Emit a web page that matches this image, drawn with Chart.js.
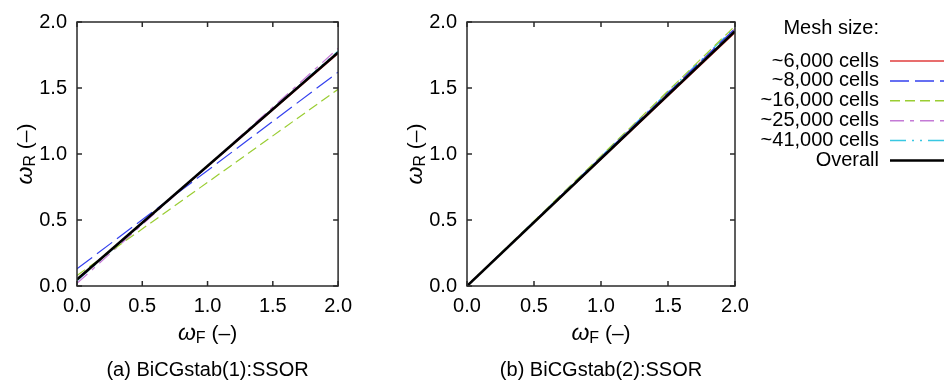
<!DOCTYPE html>
<html>
<head>
<meta charset="utf-8">
<script src="https://cdn.jsdelivr.net/npm/chart.js@4/dist/chart.umd.min.js"></script>
<style>
  html, body { margin: 0; padding: 0; background: #fff; }
  #wrap { position: relative; width: 944px; height: 385px; }
  #boxA { position: absolute; left: 0; top: 0; width: 360px; height: 385px; }
  #boxB { position: absolute; left: 360px; top: 0; width: 584px; height: 385px; }
</style>
</head>
<body>
<div id="wrap">
  <div id="boxA"><canvas id="chartA" width="360" height="385"></canvas></div>
  <div id="boxB"><canvas id="chartB" width="584" height="385"></canvas></div>
</div>
<script>
// ---- data ----
const xValues = [0, 2];                       // omega_F at the two ends of each fitted line
const tickValues = [0, 0.5, 1.0, 1.5, 2.0];
const seriesNames = ['~6,000 cells', '~8,000 cells', '~16,000 cells', '~25,000 cells', '~41,000 cells', 'Overall'];
const captions = ['(a) BiCGstab(1):SSOR', '(b) BiCGstab(2):SSOR'];
const legendTitle = 'Mesh size:';

// panel (a): omega_R at omega_F = 0 and 2
const a_6k   = [0.05, 1.76];
const a_8k   = [0.13, 1.62];
const a_16k  = [0.08, 1.49];
const a_25k  = [0.02, 1.80];
const a_41k  = [0.04, 1.78];
const a_all  = [0.05, 1.77];

// panel (b)
const b_6k   = [0.00, 1.92];
const b_8k   = [0.00, 1.95];
const b_16k  = [0.00, 1.97];
const b_25k  = [0.00, 1.95];
const b_41k  = [0.00, 1.96];
const b_all  = [0.00, 1.93];

// ---- styles ----
const colors = ['#e03c3c', '#3340ee', '#9acd32', '#c47ad6', '#38c8e2', '#000000'];
const dashes = [[], [19, 6], [10, 5], [14, 6, 4, 6], [16, 6, 2, 6, 2, 6], []];
const widths = [1.2, 1.2, 1.2, 1.2, 1.2, 2.6];
const FONT = '"Liberation Sans", Arial, Helvetica, sans-serif';

function toPoints(arr) { return xValues.map((x, i) => ({ x: x, y: arr[i] })); }

function makeDatasets(series) {
  return series.map((arr, i) => ({
    label: seriesNames[i],
    data: toPoints(arr),
    showLine: true,
    borderColor: colors[i],
    backgroundColor: colors[i],
    borderWidth: widths[i],
    borderDash: dashes[i],
    pointRadius: 0,
    fill: false,
    order: i === 5 ? 0 : 1
  }));
}

function drawOmegaTitle(ctx, sub, cx, cy, rotate) {
  ctx.save();
  ctx.translate(cx, cy);
  if (rotate) ctx.rotate(-Math.PI / 2);
  const f1 = 'italic 23px ' + FONT;
  const f2 = '16px ' + FONT;
  const f3 = '21px ' + FONT;
  ctx.font = f1; const w1 = ctx.measureText('\u03c9').width;
  ctx.font = f2; const w2 = ctx.measureText(sub).width;
  ctx.font = f3; const w3 = ctx.measureText(' (\u2013)').width;
  let x = -(w1 + w2 + w3) / 2;
  ctx.fillStyle = '#000';
  ctx.textBaseline = 'alphabetic';
  ctx.textAlign = 'left';
  ctx.font = f1; ctx.fillText('\u03c9', x, 7); x += w1;
  ctx.font = f2; ctx.fillText(sub, x, 10); x += w2;
  ctx.font = f3; ctx.fillText(' (\u2013)', x, 7);
  ctx.restore();
}

const framePlugin = {
  id: 'frame',
  afterDraw(chart, args, opts) {
    const ctx = chart.ctx;
    const a = chart.chartArea;
    const xs = chart.scales.x, ys = chart.scales.y;
    ctx.save();
    ctx.strokeStyle = '#2a2a2a';
    ctx.lineWidth = 1.5;
    ctx.setLineDash([]);
    ctx.strokeRect(a.left, a.top, a.right - a.left, a.bottom - a.top);
    const tl = 5;
    ctx.beginPath();
    xs.ticks.forEach(t => {
      const px = xs.getPixelForValue(t.value);
      ctx.moveTo(px, a.bottom); ctx.lineTo(px, a.bottom - tl);
      ctx.moveTo(px, a.top); ctx.lineTo(px, a.top + tl);
    });
    ys.ticks.forEach(t => {
      const py = ys.getPixelForValue(t.value);
      ctx.moveTo(a.left, py); ctx.lineTo(a.left + tl, py);
      ctx.moveTo(a.right, py); ctx.lineTo(a.right - tl, py);
    });
    ctx.stroke();
    ctx.restore();

    const midX = (a.left + a.right) / 2;
    const midY = (a.top + a.bottom) / 2;
    drawOmegaTitle(ctx, 'F', midX, 333, false);
    drawOmegaTitle(ctx, 'R', a.left - 52, midY, true);

    ctx.save();
    ctx.fillStyle = '#000';
    ctx.font = '20px ' + FONT;
    ctx.textAlign = 'center';
    ctx.textBaseline = 'middle';
    ctx.fillText(opts.caption, midX, 370);
    ctx.restore();

    if (opts.legend) {
      const right = a.right + 144;
      const lx0 = a.right + 155, lx1 = a.right + 215;
      ctx.save();
      ctx.fillStyle = '#000';
      ctx.font = '20px ' + FONT;
      ctx.textAlign = 'right';
      ctx.textBaseline = 'middle';
      ctx.fillText(legendTitle, right, 28);
      chart.data.datasets.forEach((ds, i) => {
        const yy = 61 + i * 19.9;
        ctx.fillStyle = '#000';
        ctx.fillText(ds.label, right, yy);
        ctx.strokeStyle = ds.borderColor;
        ctx.lineWidth = ds.borderWidth + (i === 5 ? 0 : 0.3);
        ctx.setLineDash(ds.borderDash);
        ctx.beginPath();
        ctx.moveTo(lx0, yy); ctx.lineTo(lx1, yy);
        ctx.stroke();
      });
      ctx.restore();
    }
  }
};

function makeChart(id, series, caption, yAxisWidth, padRight, legend) {
  return new Chart(document.getElementById(id), {
    type: 'scatter',
    data: { datasets: makeDatasets(series) },
    options: {
      responsive: false,
      animation: false,
      events: [],
      layout: { padding: { top: 21, right: padRight, left: 0, bottom: 0 } },
      plugins: {
        legend: { display: false },
        tooltip: { enabled: false },
        frame: { caption: caption, legend: legend }
      },
      scales: {
        x: {
          type: 'linear', min: 0, max: 2,
          afterBuildTicks: s => { s.ticks = tickValues.map(v => ({ value: v })); },
          afterFit: s => { s.height = 99; },
          grid: { display: false, drawTicks: false },
          border: { display: false },
          ticks: {
            padding: 8,
            color: '#000',
            font: { family: FONT, size: 20 },
            callback: v => v.toFixed(1),
            maxRotation: 0, autoSkip: false
          }
        },
        y: {
          type: 'linear', min: 0, max: 2,
          afterBuildTicks: s => { s.ticks = tickValues.map(v => ({ value: v })); },
          afterFit: s => { s.width = yAxisWidth; },
          grid: { display: false, drawTicks: false },
          border: { display: false },
          ticks: {
            padding: 10,
            color: '#000',
            font: { family: FONT, size: 20 },
            callback: v => v.toFixed(1),
            autoSkip: false
          }
        }
      }
    },
    plugins: [framePlugin]
  });
}

makeChart('chartA', [a_6k, a_8k, a_16k, a_25k, a_41k, a_all], captions[0], 77, 17, false);
makeChart('chartB', [b_6k, b_8k, b_16k, b_25k, b_41k, b_all], captions[1], 107, 209, true);
</script>
</body>
</html>
